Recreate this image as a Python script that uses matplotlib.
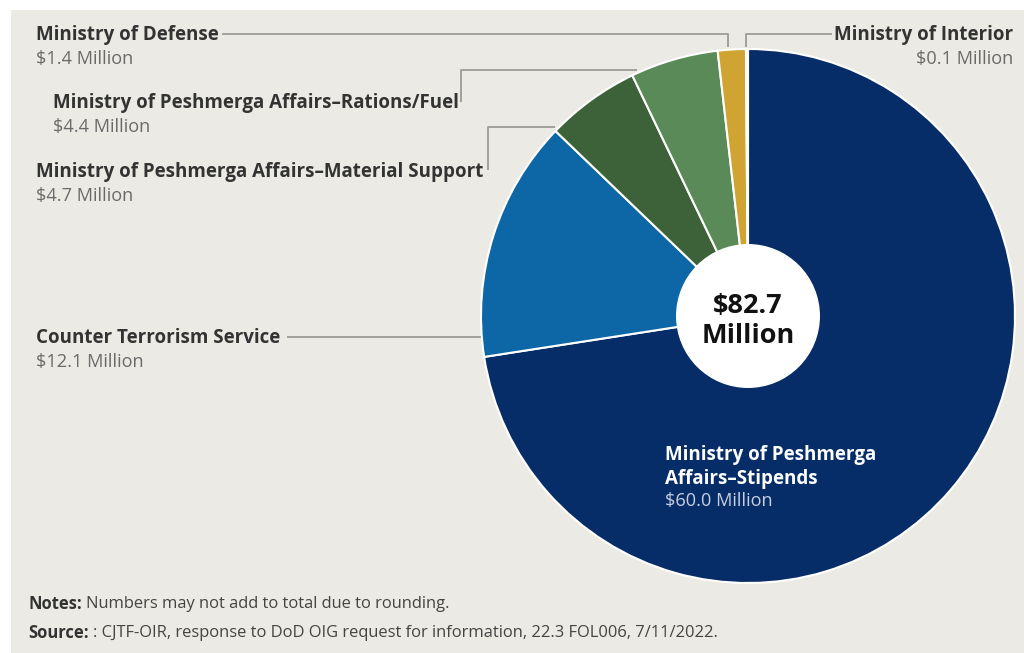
import matplotlib
matplotlib.use("Agg")
import matplotlib.pyplot as plt
from matplotlib.patches import Circle, Rectangle

labels = ["Ministry of Peshmerga\nAffairs–Stipends", "Counter Terrorism Service",
          "Ministry of Peshmerga Affairs–Material Support",
          "Ministry of Peshmerga Affairs–Rations/Fuel",
          "Ministry of Defense", "Ministry of Interior"]
values = [60.0, 12.1, 4.7, 4.4, 1.4, 0.1]
value_labels = ["$60.0 Million", "$12.1 Million", "$4.7 Million", "$4.4 Million",
                "$1.4 Million", "$0.1 Million"]
colors = ["#062d68", "#0d66a5", "#3d6139", "#5a8a58", "#d0a432", "#c9c8c0"]
total_label = "$82.7\nMillion"
notes_head, notes_body = "Notes:", "Numbers may not add to total due to rounding."
source_head, source_body = "Source:", ": CJTF-OIR, response to DoD OIG request for information, 22.3 FOL006, 7/11/2022."

W, H = 1024, 653
FAM = ['Open Sans', 'DejaVu Sans']
plt.rcParams['font.family'] = FAM
fig = plt.figure(figsize=(W / 100, H / 100), dpi=100)
fig.patch.set_facecolor("white")
ax = fig.add_axes([0, 0, 1, 1])
renderer = fig.canvas.get_renderer()

def Y(y):
    return H - y

def text_width(s, size, weight="normal"):
    t = fig.text(0, 0, s, fontsize=size, fontweight=weight)
    w = t.get_window_extent(renderer).width
    t.remove()
    return w

# scale label font to the reference width of the longest label (36 -> 482 px)
fs_name = 12 * 446 / text_width(labels[2], 12, "bold")
fs_val = fs_name * 0.97
# notes font: source line spans 28 -> 720 px
fs_note = 10 * 692 / (text_width(source_head, 10, "bold") + text_width(" " + source_body, 10))

BG = "#ebeae4"
ax.add_patch(Rectangle((11, 0), W - 11, H - 10, facecolor=BG, edgecolor="none", zorder=0))

cx, cy, R = 748, Y(316), 267
ax.pie(values, colors=colors, startangle=90, counterclock=False, center=(cx, cy),
       radius=R, wedgeprops=dict(edgecolor="white", linewidth=1.5), frame=True)
ax.set_xlim(0, W)
ax.set_ylim(0, H)
ax.set_aspect("equal")
ax.axis("off")
ax.add_patch(Circle((cx, cy), 72, facecolor="white", edgecolor="none", zorder=5))
ax.text(cx, Y(321), total_label, ha="center", va="center", fontsize=19.5,
        fontweight="bold", color="#111111", linespacing=1.22, zorder=6)

LC = "#9b9b98"
lw = 1.3
def line(xs, ys):
    ax.plot(xs, [Y(v) for v in ys], color=LC, lw=lw, zorder=3, solid_capstyle="butt")

# leader lines
line([222, 728, 728], [34, 34, 47])          # Defense
line([832, 746, 746], [34, 34, 47])          # Interior
line([461, 461, 637], [102, 70, 70])          # Rations
line([488, 488, 555], [170, 127, 127])        # Material
line([287, 481], [337, 337])                  # CTS

NAME = "#333333"
VAL = "#6a6a6a"

def label(x, y, name, val, ha="left"):
    ax.text(x, Y(y), name, ha=ha, va="center", fontsize=fs_name, fontweight="bold", color=NAME)
    ax.text(x, Y(y + 24), val, ha=ha, va="center", fontsize=fs_val, color=VAL)

label(36, 35, labels[4], value_labels[4])
label(53, 103, labels[3], value_labels[3])
label(36, 172, labels[2], value_labels[2])
label(36, 338, labels[1], value_labels[1])
label(1013, 35, labels[5], value_labels[5], ha="right")

ax.text(665, Y(467), labels[0], ha="left", va="center", fontsize=fs_name,
        fontweight="bold", color="white", linespacing=1.25, zorder=4)
ax.text(665, Y(501), value_labels[0], ha="left", va="center", fontsize=fs_val,
        color="#c8cfe0", zorder=4)

# notes
def note(y, head, body):
    ax.text(28, Y(y), head, ha="left", va="center", fontsize=fs_note, fontweight="bold", color="#333333")
    x2 = 28 + text_width(head + " ", fs_note, "bold")
    ax.text(x2, Y(y), body, ha="left", va="center", fontsize=fs_note, color="#444444")

note(604, notes_head, notes_body)
note(633, source_head, source_body)

fig.savefig("out.png", dpi=100, facecolor=fig.get_facecolor())
